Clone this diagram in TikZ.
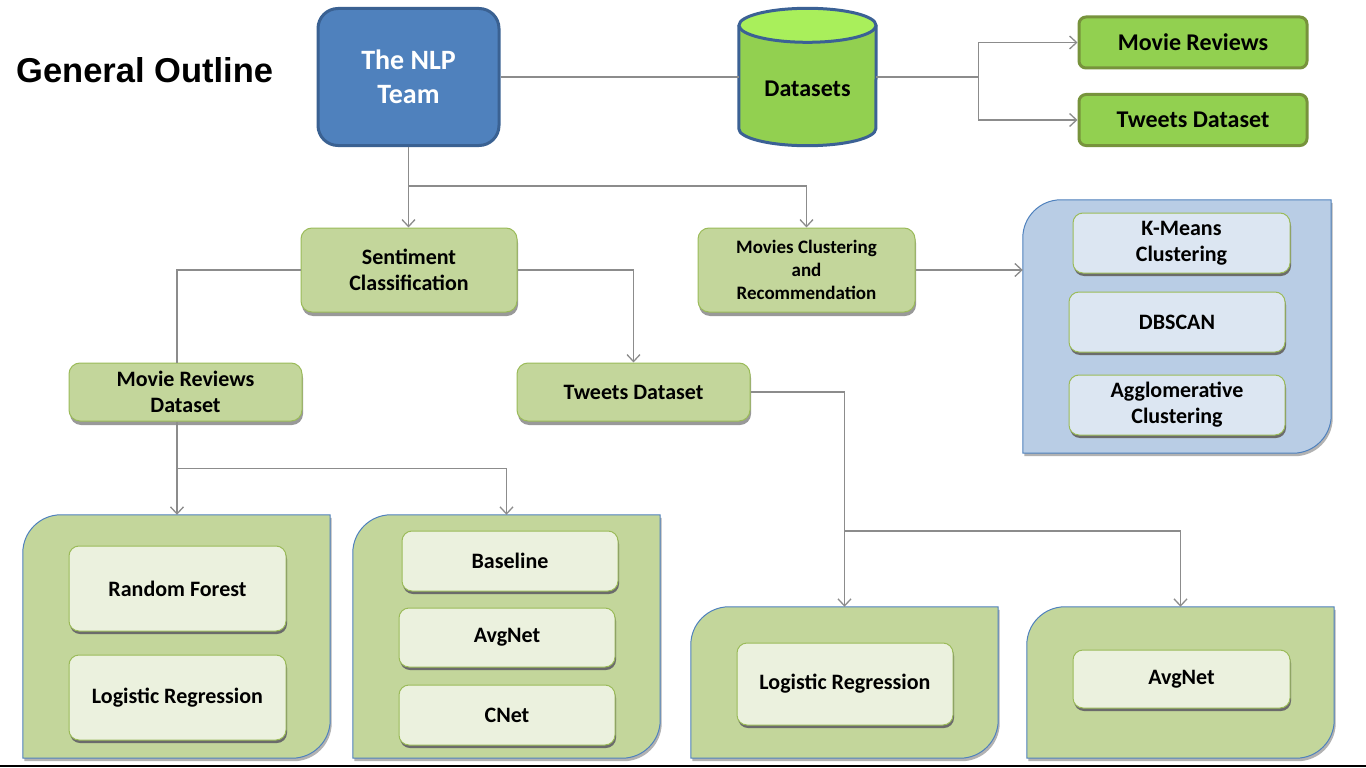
\documentclass[tikz,border=0pt]{standalone}
\usepackage{fontspec}
\setmainfont{Carlito}
\newfontfamily\titlefont{Liberation Sans}
\usetikzlibrary{arrows.meta,shadows,calc}

\definecolor{nlpfill}{HTML}{4F81BD}
\definecolor{nlpdraw}{HTML}{3A6192}
\definecolor{cylbody}{HTML}{92D050}
\definecolor{cyltop}{HTML}{A9EF5B}
\definecolor{cyldraw}{HTML}{3B6195}
\definecolor{brightfill}{HTML}{92D050}
\definecolor{brightdraw}{HTML}{77933C}
\definecolor{midfill}{HTML}{C3D69B}
\definecolor{middraw}{HTML}{9BBB59}
\definecolor{contdraw}{HTML}{4F81BD}
\definecolor{bluefill}{HTML}{B9CDE5}
\definecolor{paleblue}{HTML}{DCE6F2}
\definecolor{palegreen}{HTML}{EBF1DE}
\definecolor{linegray}{HTML}{8C8C8C}

\newcommand\drawcont[3]{%
  \fill[black!30, transform canvas={shift={(1.5pt,-3pt)}}]
    (#1.south west) -- ($(#1.north west)+(0,#3)$)
    .. controls ($(#1.north west)+(0,0.45*#3)$) and ($(#1.north west)+(0.45*#3,0)$) .. ($(#1.north west)+(#3,0)$)
    -- (#1.north east) -- ($(#1.south east)+(0,-#3)$)
    .. controls ($(#1.south east)+(0,-0.45*#3)$) and ($(#1.south east)+(-0.45*#3,0)$) .. ($(#1.south east)+(-#3,0)$)
    -- cycle;
  \filldraw[fill=#2, draw=contdraw, line width=1pt]
    (#1.south west) -- ($(#1.north west)+(0,#3)$)
    .. controls ($(#1.north west)+(0,0.45*#3)$) and ($(#1.north west)+(0.45*#3,0)$) .. ($(#1.north west)+(#3,0)$)
    -- (#1.north east) -- ($(#1.south east)+(0,-#3)$)
    .. controls ($(#1.south east)+(0,-0.45*#3)$) and ($(#1.south east)+(-0.45*#3,0)$) .. ($(#1.south east)+(-#3,0)$)
    -- cycle;
}

\begin{document}
\begin{tikzpicture}[x=1pt,y=-1pt,
  conn/.style={draw=linegray, line width=1.3pt},
  arr/.style={conn, -{Straight Barb[length=7pt,width=13pt]}},
  box/.style={rectangle, align=center, inner sep=0pt, text=black,
    font=\fontsize{22}{26}\selectfont\bfseries},
  bigtext/.style={font=\fontsize{24}{28}\selectfont\bfseries},
  nlpbox/.style={box, draw=nlpdraw, fill=nlpfill, line width=3pt, rounded corners=20pt,
    text=white, font=\fontsize{28}{34}\selectfont\bfseries},
  brightbox/.style={box, bigtext, draw=brightdraw, fill=brightfill, line width=3pt, rounded corners=7pt},
  midbox/.style={box, draw=middraw, fill=midfill, line width=1pt, rounded corners=11pt,
    drop shadow={shadow xshift=1pt, shadow yshift=-4pt, fill=black!40, opacity=1}},
  innerg/.style={box, draw=middraw, fill=palegreen, line width=1pt, rounded corners=10pt,
    drop shadow={shadow xshift=1pt, shadow yshift=-3pt, fill=black!58, opacity=1}},
  innerb/.style={innerg, fill=paleblue},
  contbox/.style={rectangle, inner sep=0pt, draw=none}
]
\useasboundingbox (0,0) rectangle (1366,768);
\fill[white] (0,0) rectangle (1366,768);

% title
\node[anchor=base west, inner sep=0pt, font=\titlefont\bfseries\fontsize{34.5}{40}\selectfont] (title) at (16,82) {General Outline};

% top row
\node[nlpbox, minimum width=181pt, minimum height=137pt] (nlp) at (408.5,77) {The NLP\\Team};
\node[contbox, minimum width=137pt, minimum height=137pt] (ds) at (807.5,77) {};
\fill[cylbody] ($(ds.north west)+(0,17)$) rectangle ($(ds.south east)+(0,-17)$);
\fill[cylbody] ($(ds.south)+(0,-17)$) ellipse [x radius=68.5, y radius=17];
\draw[cyldraw, line width=3pt] ($(ds.north west)+(0,17)$) -- ($(ds.south west)+(0,-17)$)
  arc[start angle=180, end angle=0, x radius=68.5, y radius=17] -- ($(ds.north east)+(0,17)$);
\filldraw[fill=cyltop, draw=cyldraw, line width=3pt] ($(ds.north)+(0,17)$) ellipse [x radius=68.5, y radius=17];
\node[box, bigtext] (dstext) at (807.5,89) {Datasets};

\node[brightbox, minimum width=228pt, minimum height=51pt] (mr) at (1193,42.5) {Movie Reviews};
\node[brightbox, minimum width=228pt, minimum height=51pt] (tds) at (1193,120) {Tweets Dataset};

% second row
\node[midbox, minimum width=216pt, minimum height=84pt] (sent) at (409,270) {Sentiment\\Classification};
\node[midbox, minimum width=217pt, minimum height=84pt,
  font=\fontsize{19}{23}\selectfont\bfseries] (mc) at (806.5,270) {Movies Clustering\\and\\Recommendation};

% blue container
\node[contbox, minimum width=308pt, minimum height=253pt] (bc) at (1177,326.5) {};
\drawcont{bc}{bluefill}{38}
\node[innerb, minimum width=217pt, minimum height=60pt] (km) at (1181.5,243) {K-Means\\Clustering};
\node[innerb, minimum width=216pt, minimum height=60pt] (dbs) at (1177,322) {DBSCAN};
\node[innerb, minimum width=216pt, minimum height=60pt] (agg) at (1177,405) {Agglomerative\\Clustering};

% third row
\node[midbox, minimum width=233pt, minimum height=58pt] (mrd) at (185.5,392) {Movie Reviews\\Dataset};
\node[midbox, minimum width=233pt, minimum height=58pt] (tw) at (633.5,392) {Tweets Dataset};

% bottom containers
\node[contbox, minimum width=307pt, minimum height=243pt] (c1) at (176.5,636.5) {};
\node[contbox, minimum width=307pt, minimum height=243pt] (c2) at (506.5,636.5) {};
\node[contbox, minimum width=307pt, minimum height=151pt] (c3) at (844.5,682.5) {};
\node[contbox, minimum width=307pt, minimum height=151pt] (c4) at (1180.5,682.5) {};
\drawcont{c1}{midfill}{38}
\drawcont{c2}{midfill}{38}
\drawcont{c3}{midfill}{38}
\drawcont{c4}{midfill}{38}

\node[innerg, minimum width=217pt, minimum height=85pt] (rf) at (177.5,588.5) {Random Forest};
\node[innerg, minimum width=217pt, minimum height=85pt] (lr1) at (177.5,697.5) {Logistic Regression};
\node[innerg, minimum width=216pt, minimum height=60pt] (base) at (510,561) {Baseline};
\node[innerg, minimum width=216pt, minimum height=59pt] (avg1) at (507,637.5) {AvgNet};
\node[innerg, minimum width=216pt, minimum height=60pt] (cnet) at (507,715) {CNet};
\node[innerg, minimum width=216pt, minimum height=82pt] (lr2) at (845,684) {Logistic Regression};
\node[innerg, minimum width=217pt, minimum height=58pt] (avg2) at (1181.5,679) {AvgNet};

% connectors
\draw[conn] (nlp.east) -- (nlp.east -| ds.west);
\draw[conn] (nlp.east -| ds.east) -- ++(102,0) coordinate (dsplit);
\draw[arr] (dsplit) |- (mr.west);
\draw[arr] (dsplit) |- (tds.west);

\draw[arr] (nlp.south) -- (nlp.south |- sent.north);
\path (nlp.south) ++(0,39) coordinate (nlpsplit);
\draw[arr] (nlpsplit) -| (mc.north);

\coordinate (mrdtop) at ($(mrd.north)+(-8.5,0)$);
\coordinate (mrdbot) at ($(mrd.south)+(-8.5,0)$);
\draw[conn] (sent.west) -| (mrdtop);
\draw[arr] (sent.east) -| (tw.north);
\draw[arr] (mc.east) -- (mc.east -| bc.west);

\draw[arr] (mrdbot) -- (mrdbot |- c1.north);
\path (mrdbot) ++(0,47) coordinate (mrdsplit);
\draw[arr] (mrdsplit) -| (c2.north);

\draw[arr] (tw.east) -| (c3.north);
\path (tw.east -| c3.north) ++(0,139) coordinate (twsplit);
\draw[arr] (twsplit) -| (c4.north);

% bottom edge line
\draw[black, line width=2pt] (0,766) -- (1366,766);
\end{tikzpicture}
\end{document}
